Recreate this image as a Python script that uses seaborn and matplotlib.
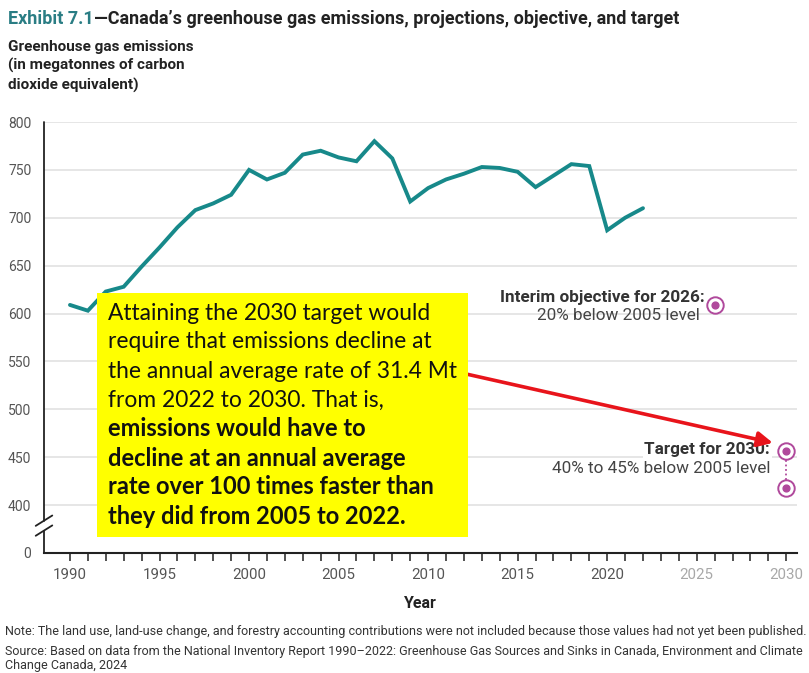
import matplotlib
matplotlib.use("Agg")
import matplotlib.pyplot as plt
import pandas as pd
import seaborn as sns
from matplotlib.lines import Line2D

# Data (Mt CO2 eq.)
years = list(range(1990, 2023))
emissions = [609, 603, 623, 628, 649, 669, 690, 708, 715, 724,
             750, 740, 747, 766, 770, 763, 759, 780, 762, 717,
             731, 740, 746, 753, 752, 748, 732, 744, 756, 754,
             687, 700, 710]
objective_year = 2026
objective_value = 609
target_year = 2030
target_values = [456, 418]

y_ticks = [350, 400, 450, 500, 550, 600, 650, 700, 750, 800]
y_tick_labels = ["0", "400", "450", "500", "550", "600", "650", "700", "750", "800"]
x_label_years = [1990, 1995, 2000, 2005, 2010, 2015, 2020, 2025, 2030]

box_lines_regular = ["Attaining the 2030 target would",
                     "require that emissions decline at",
                     "the annual average rate of 31.4 Mt",
                     "from 2022 to 2030. That is,"]
box_lines_bold = ["emissions would have to",
                  "decline at an annual average",
                  "rate over 100 times faster than",
                  "they did from 2005 to 2022."]

df = pd.DataFrame({"year": years, "emissions": emissions})

sns.set_style("white")
plt.rcParams["font.family"] = ["Roboto", "DejaVu Sans"]
plt.rcParams["xtick.bottom"] = True
plt.rcParams["xtick.major.size"] = 6
plt.rcParams["xtick.major.width"] = 1.2

TEAL = "#17898a"
PURPLE = "#b0499c"
GRAY = "#555555"

fig = plt.figure(figsize=(8.09, 6.73), dpi=100)
ax = fig.add_axes([44 / 809, 1 - 553 / 673, (797 - 44) / 809, (553 - 122) / 673])

ax.set_xlim(1988.55, 2030.6)
ax.set_ylim(350, 800)
ax.yaxis.grid(True, color="#e2e2e2", linewidth=1.2)
ax.set_axisbelow(True)

sns.lineplot(data=df, x="year", y="emissions", ax=ax, color=TEAL, linewidth=2.8,
             solid_joinstyle="miter", zorder=3)

# spines
for s in ["top", "right"]:
    ax.spines[s].set_visible(False)
ax.spines["left"].set_visible(False)
ax.spines["bottom"].set_color("#222222")
ax.spines["bottom"].set_linewidth(1.5)
# broken y axis line
bx = 0.0
ax.add_line(Line2D([bx, bx], [0.0, 0.052], transform=ax.transAxes, color="#222222", lw=1.3, clip_on=False))
ax.add_line(Line2D([bx, bx], [0.075, 1.0], transform=ax.transAxes, color="#222222", lw=1.3, clip_on=False))
for yb in [0.052, 0.075]:
    ax.add_line(Line2D([bx - 0.011, bx + 0.011], [yb - 0.012, yb + 0.012], transform=ax.transAxes,
                       color="#222222", lw=1.3, clip_on=False))

ax.set_yticks(y_ticks)
ax.set_yticklabels(y_tick_labels)
ax.tick_params(axis="y", left=False, length=0, pad=9, labelsize=10, labelcolor=GRAY)

ax.set_xticks(list(range(1990, 2031)))
ax.set_xticklabels([str(y) if y in x_label_years else "" for y in range(1990, 2031)])
ax.tick_params(axis="x", which="major", bottom=True, direction="out", length=6, width=1.2,
               color="#333333", pad=5, labelsize=10.8, labelcolor=GRAY)
for lbl in ax.get_xticklabels():
    if lbl.get_text() in ("2025", "2030"):
        lbl.set_color("#a8a8a8")

ax.set_xlabel("Year", fontsize=11.5, fontweight="bold", color="#222222", labelpad=10)
ax.set_ylabel("")

# objective and target markers
ax.plot([target_year, target_year], target_values, color=PURPLE, lw=1.3, ls=(0, (1, 1.5)),
        zorder=4, clip_on=False)
mx = [objective_year, target_year, target_year]
my = [objective_value] + target_values
ax.scatter(mx, my, s=140, facecolor="white", edgecolor=PURPLE, linewidth=1.4, zorder=5, clip_on=False)
ax.scatter(mx, my, s=24, color=PURPLE, zorder=6, clip_on=False)

ANN = 12.3
ax.text(objective_year - 0.55, objective_value + 8, "Interim objective for 2026:", ha="right", va="center",
        fontsize=ANN, fontweight="bold", color="#333333",
        bbox=dict(facecolor="white", edgecolor="none", pad=1))
ax.text(objective_year - 0.8, objective_value - 11, "20% below 2005 level", ha="right", va="center",
        fontsize=ANN, color="#444444")
ax.text(target_year - 0.9, target_values[0] + 2, "Target for 2030:", ha="right", va="center",
        fontsize=ANN, fontweight="bold", color="#333333",
        bbox=dict(facecolor="white", edgecolor="none", pad=1))
ax.text(target_year - 0.9, target_values[0] - 18, "40% to 45% below 2005 level", ha="right", va="center",
        fontsize=ANN, color="#444444",
        bbox=dict(facecolor="white", edgecolor="none", pad=1))

# red arrow
ax.annotate("", xy=(2029.25, 465), xytext=(2012.1, 537),
            arrowprops=dict(arrowstyle="-|>,head_length=0.9,head_width=0.45", color="#e8141b",
                            lw=2.6, shrinkA=0, shrinkB=0), zorder=6)

# yellow call-out box (figure pixel coordinates)
fig.patches.append(plt.Rectangle((97 / 809, 1 - 537 / 673), (468 - 97) / 809, (537 - 293) / 673,
                                 transform=fig.transFigure, facecolor="#ffff00", edgecolor="none",
                                 zorder=7))
for i, line in enumerate(box_lines_regular + box_lines_bold):
    ypix = 313 + i * 29
    bold = i >= 4
    fig.text(108 / 809, 1 - ypix / 673, line, ha="left", va="center", fontsize=17.0 if bold else 16.4,
             family=["Lato", "DejaVu Sans"], fontweight="bold" if bold else "normal",
             color="#111111", zorder=8)

# title and axis heading
t1 = fig.text(8 / 809, 1 - 19 / 673, "Exhibit 7.1", ha="left", va="center", fontsize=13.0,
              fontweight="bold", color="#2a7d84")
fig.canvas.draw()
x_end = t1.get_window_extent().x1 / fig.bbox.width
fig.text(x_end, 1 - 19 / 673, "\u2014Canada\u2019s greenhouse gas emissions, projections, objective, and target",
         ha="left", va="center", fontsize=13.0, fontweight="bold", color="#222222")
fig.text(8 / 809, 1 - 40 / 673, "Greenhouse gas emissions\n(in megatonnes of carbon\ndioxide equivalent)",
         ha="left", va="top", fontsize=11, fontweight="bold", color="#222222", linespacing=1.38)

# notes
NOTE = 9.0
fig.text(5 / 809, 1 - 632 / 673,
         "Note: The land use, land-use change, and forestry accounting contributions were not included "
         "because those values had not yet been published.",
         ha="left", va="center", fontsize=NOTE, color="#333333")
fig.text(5 / 809, 1 - 651 / 673,
         "Source: Based on data from the National Inventory Report 1990\u20132022: Greenhouse Gas Sources "
         "and Sinks in Canada, Environment and Climate",
         ha="left", va="center", fontsize=NOTE, color="#333333")
fig.text(5 / 809, 1 - 666 / 673, "Change Canada, 2024",
         ha="left", va="center", fontsize=NOTE, color="#333333")

fig.savefig("out.png", dpi=100)
